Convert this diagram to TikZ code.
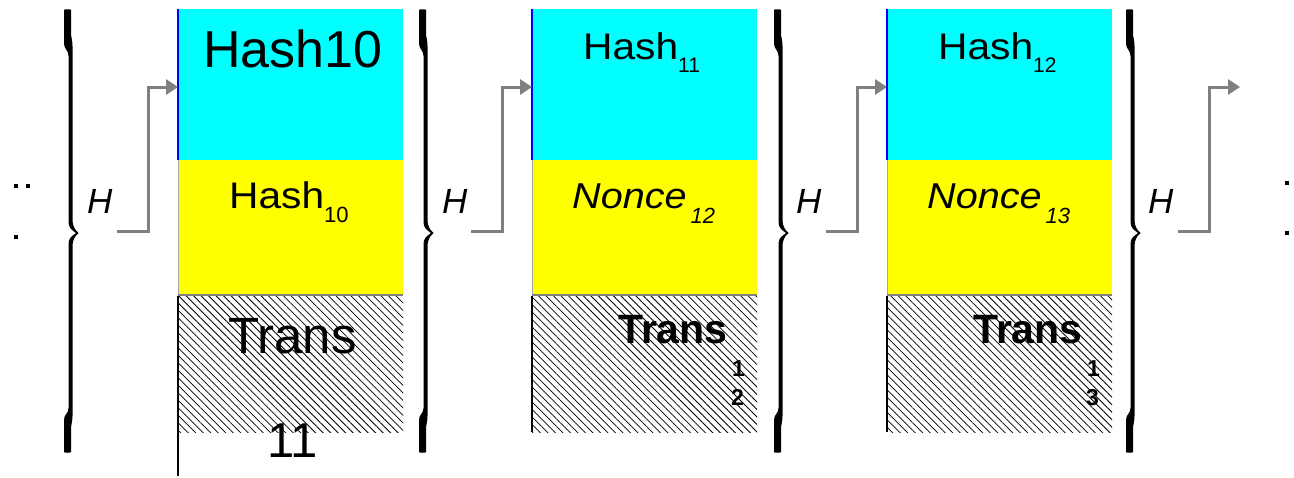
\documentclass[tikz,border=0pt]{standalone}
\usepackage{fontspec}
\setmainfont{Liberation Sans}
\usetikzlibrary{patterns.meta,arrows.meta}
\definecolor{hashcyan}{RGB}{0,255,255}
\definecolor{nonceyellow}{RGB}{255,255,0}
\definecolor{linkgrey}{RGB}{128,128,128}
\newcommand\fsz[1]{\fontsize{#1}{#1}\selectfont}

\begin{document}
\begin{tikzpicture}[x=1pt,y=-1pt,
  cell/.style={draw=none, inner sep=0, outer sep=0, anchor=north west, minimum width=225pt},
  hashcell/.style={cell, fill=hashcyan, minimum height=151pt},
  noncecell/.style={cell, fill=nonceyellow, minimum height=135pt},
  transcell/.style={cell, minimum height=136pt,
    pattern={Lines[angle=-45, distance=5.3pt, line width=0.75pt]}, pattern color=black},
  txt/.style={inner sep=0, anchor=base west},
  link/.style={draw=linkgrey, line width=3pt, -{Triangle[length=12pt, width=15pt]}},
  lbl/.style={inner sep=0, anchor=base west, font=\fsz{35}\itshape},
  curly/.pic={
    \fill (1,0) .. controls (1,-1) and (8,-1) .. (8,0) -- (8,22)
      .. controls (8,28) and (9.5,30) .. (9.5,36) -- (9.5,210)
      .. controls (9.5,216) and (12,220) .. (15.5,223)
      .. controls (12,226) and (9.5,230) .. (9.5,236) -- (9.5,406)
      .. controls (9.5,412) and (8,414) .. (8,420) -- (8,442)
      .. controls (8,443) and (1,443) .. (1,442) -- (1,410)
      .. controls (1,404) and (5.5,404) .. (5.5,398) -- (5.5,234)
      .. controls (5.5,228) and (9,226) .. (13,223)
      .. controls (9,220) and (5.5,218) .. (5.5,212) -- (5.5,46)
      .. controls (5.5,40) and (1,40) .. (1,32) -- cycle;
  }
]
\useasboundingbox (0,0) rectangle (1294,477);

% continuation dots
\fill (14,184) rectangle +(3.5,3.5);
\fill (26,184) rectangle +(3.5,3.5);
\fill (14,235) rectangle +(3.5,3.5);
\fill (1285,181) rectangle +(3.5,3.5);
\fill (1285,231) rectangle +(3.5,3.5);

% braces standing for the hash function over each block
\pic at (63,10) {curly};
\pic at (418,10) {curly};
\pic at (773,10) {curly};
\pic at (1125,10) {curly};

% block 1
\node[hashcell]  (h1) at (178,9) {};
\node[noncecell] (n1) at (178,160) {};
\node[transcell] (t1) at (178,296) {};
\draw[blue, line width=1.5pt] (h1.north west) -- (h1.south west);
\draw[linkgrey!70, line width=1pt] (n1.north west) -- (n1.south west);
\draw[linkgrey, line width=1.5pt] (n1.south west) -- (n1.south east);
\draw[line width=1.2pt] (t1.north west) -- ++(0,180);
\node[txt] (h1t) at (203,67) {\fsz{52}Hash10};
\node[txt] (n1t) at (229,208) {\scalebox{1.1}[1]{\fsz{37}Hash}\raisebox{-14pt}{\fsz{22}10}};
\node[txt] (t1t) at (228,353) {\fsz{51}Trans};
\node[txt] (t1n) at (267,457) {\fsz{49}11};

% block 2
\node[hashcell]  (h2) at (532,9) {};
\node[noncecell] (n2) at (532,160) {};
\node[transcell] (t2) at (532,296) {};
\draw[blue, line width=1.5pt] (h2.north west) -- (h2.south west);
\draw[linkgrey!70, line width=1pt] (n2.north west) -- (n2.south west);
\draw[linkgrey, line width=1.5pt] (n2.south west) -- (n2.south east);
\draw[line width=1.2pt] (t2.north west) -- (t2.south west);
\node[txt] (h2t) at (583,59) {\scalebox{1.1}[1]{\fsz{37}Hash}\raisebox{-13pt}{\fsz{21}11}};
\node[txt] (n2t) at (572,208) {\scalebox{1.1}[1]{\fsz{36}\itshape Nonce}\hspace{4pt}\raisebox{-15pt}{\fsz{22}\itshape 12}};
\node[txt] (t2t) at (618,343) {\fsz{41}\bfseries Trans};
\node[txt] (t2a) at (732,376) {\fsz{23}\bfseries 1};
\node[txt] (t2b) at (731,405) {\fsz{23}\bfseries 2};

% block 3
\node[hashcell]  (h3) at (887,9) {};
\node[noncecell] (n3) at (887,160) {};
\node[transcell] (t3) at (887,296) {};
\draw[blue, line width=1.5pt] (h3.north west) -- (h3.south west);
\draw[linkgrey!70, line width=1pt] (n3.north west) -- (n3.south west);
\draw[linkgrey, line width=1.5pt] (n3.south west) -- (n3.south east);
\draw[line width=1.2pt] (t3.north west) -- (t3.south west);
\node[txt] (h3t) at (938,59) {\scalebox{1.1}[1]{\fsz{37}Hash}\raisebox{-13pt}{\fsz{21}12}};
\node[txt] (n3t) at (927,208) {\scalebox{1.1}[1]{\fsz{36}\itshape Nonce}\hspace{4pt}\raisebox{-15pt}{\fsz{22}\itshape 13}};
\node[txt] (t3t) at (973,343) {\fsz{41}\bfseries Trans};
\node[txt] (t3a) at (1087,376) {\fsz{23}\bfseries 1};
\node[txt] (t3b) at (1086,405) {\fsz{23}\bfseries 3};

% hash labels and links into the next block
\node[lbl] (H1) at (87,213) {H};
\node[lbl] (H2) at (442,213) {H};
\node[lbl] (H3) at (796,213) {H};
\node[lbl] (H4) at (1148,213) {H};
\coordinate (o1) at (117,231);
\coordinate (o2) at (471,231);
\coordinate (o3) at (826,231);
\coordinate (o4) at (1178,231);
\coordinate (i1) at (h1.west |- 0,87);
\coordinate (i2) at (h2.west |- 0,87);
\coordinate (i3) at (h3.west |- 0,87);
\coordinate (i4) at (1240,87);
\draw[link] (o1) -- ++(31,0) |- (i1);
\draw[link] (o2) -- ++(31,0) |- (i2);
\draw[link] (o3) -- ++(31,0) |- (i3);
\draw[link] (o4) -- ++(31,0) |- (i4);
\end{tikzpicture}
\end{document}
